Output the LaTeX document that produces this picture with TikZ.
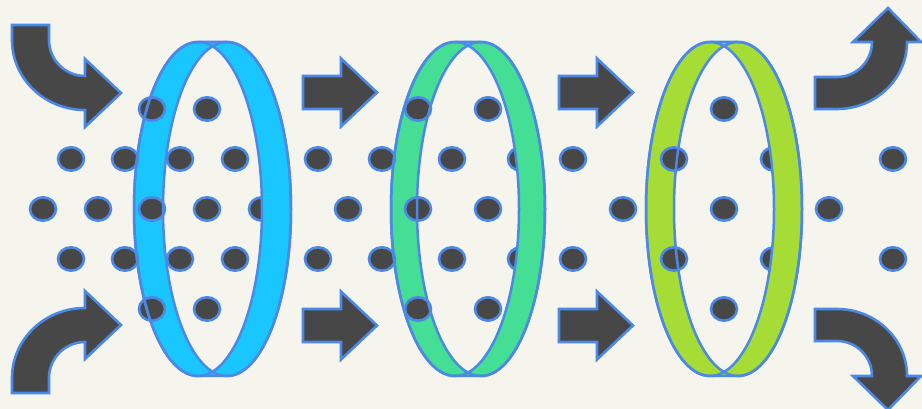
\documentclass[tikz,border=0pt]{standalone}
\usepackage{tikz}
\definecolor{bgcream}{RGB}{245,245,237}
\definecolor{dotgray}{RGB}{71,71,71}
\definecolor{edgeblue}{RGB}{76,136,230}
\definecolor{ringcyan}{RGB}{26,198,255}
\definecolor{ringgreen}{RGB}{68,222,148}
\definecolor{ringlime}{RGB}{166,220,54}
\tikzset{
  dotball/.style={fill=dotgray, draw=edgeblue, line width=2.6pt},
  flowshape/.style={fill=dotgray, draw=edgeblue, line width=2.6pt},
  rimline/.style={draw=edgeblue, line width=2.5pt},
  rimaxes/.style={x radius=64, y radius=167},
}
% #1 left rim centre, #2 right rim centre, #3 band colour
\newcommand{\ringBack}[3]{%
  \fill[#3] (#1,167) arc[start angle=90, end angle=270, rimaxes]
    -- (#2,-167) arc[start angle=-90, end angle=90, rimaxes] -- cycle;
  \begin{scope}
    \clip (#1,0) ellipse[rimaxes];
    \fill[bgcream] (#2,0) ellipse[rimaxes];
  \end{scope}}
\newcommand{\ringFront}[3]{%
  \begin{scope}
    \clip (#2,0) ellipse[rimaxes];
    \fill[#3, even odd rule] (#2,0) ellipse[rimaxes] (#1,0) ellipse[rimaxes];
  \end{scope}
  \draw[rimline] (#1,167) arc[start angle=90, end angle=270, rimaxes]
    -- (#2,-167) arc[start angle=-90, end angle=90, rimaxes] -- cycle;
  \draw[rimline] (#1,0) ellipse[rimaxes] (#2,0) ellipse[rimaxes];}
\newcommand{\flowArrow}[2]{%
  \draw[flowshape, shift={(#1,#2)}] (0,-16.5) -- (38,-16.5) -- (38,-34)
    -- (74,0) -- (38,34) -- (38,16.5) -- (0,16.5) -- cycle;}

\begin{document}
\begin{tikzpicture}[x=1pt, y=1pt]
  \fill[bgcream] (0,-200) rectangle (922,209);
  \useasboundingbox (0,-200) rectangle (922,209);

  % bent arrows in and out
  \foreach \s in {1,-1} {
    \draw[flowshape, yscale=\s] (12,184) -- (49,184) -- (49,169)
      arc[start angle=180, end angle=270, radius=36] -- (85,150) -- (121,116)
      -- (85,82) -- (85,99) arc[start angle=270, end angle=180, x radius=73, y radius=70] -- cycle;
    \draw[flowshape, yscale=\s] (815,132) -- (837,132)
      arc[start angle=270, end angle=360, radius=35] -- (853,167) -- (888,201)
      -- (921,167) -- (907,167) arc[start angle=0, end angle=-90, x radius=70, y radius=67]
      -- (815,100) -- cycle;
  }
  % straight arrows
  \foreach \x in {303,559} {
    \flowArrow{\x}{116.5}
    \flowArrow{\x}{-116.5}
  }

  \ringBack{198}{227}{ringcyan}
  \ringBack{455}{481}{ringgreen}
  \ringBack{710}{738}{ringlime}

  % particles
  \foreach \x in {152,207,418,488,724} {
    \draw[dotball] (\x,100) ellipse[x radius=13, y radius=11.7];
    \draw[dotball] (\x,-100) ellipse[x radius=13, y radius=11.7];
  }
  \foreach \x in {71,125,180,235,318,382,452,521,573,674,774,893} {
    \draw[dotball] (\x,50) ellipse[x radius=13, y radius=11.7];
    \draw[dotball] (\x,-50) ellipse[x radius=13, y radius=11.7];
  }
  \foreach \x in {43,98,152,207,262,348,418,488,623,724,829}
    \draw[dotball] (\x,0) ellipse[x radius=13, y radius=11.7];

  \ringFront{198}{227}{ringcyan}
  \ringFront{455}{481}{ringgreen}
  \ringFront{710}{738}{ringlime}
\end{tikzpicture}
\end{document}
